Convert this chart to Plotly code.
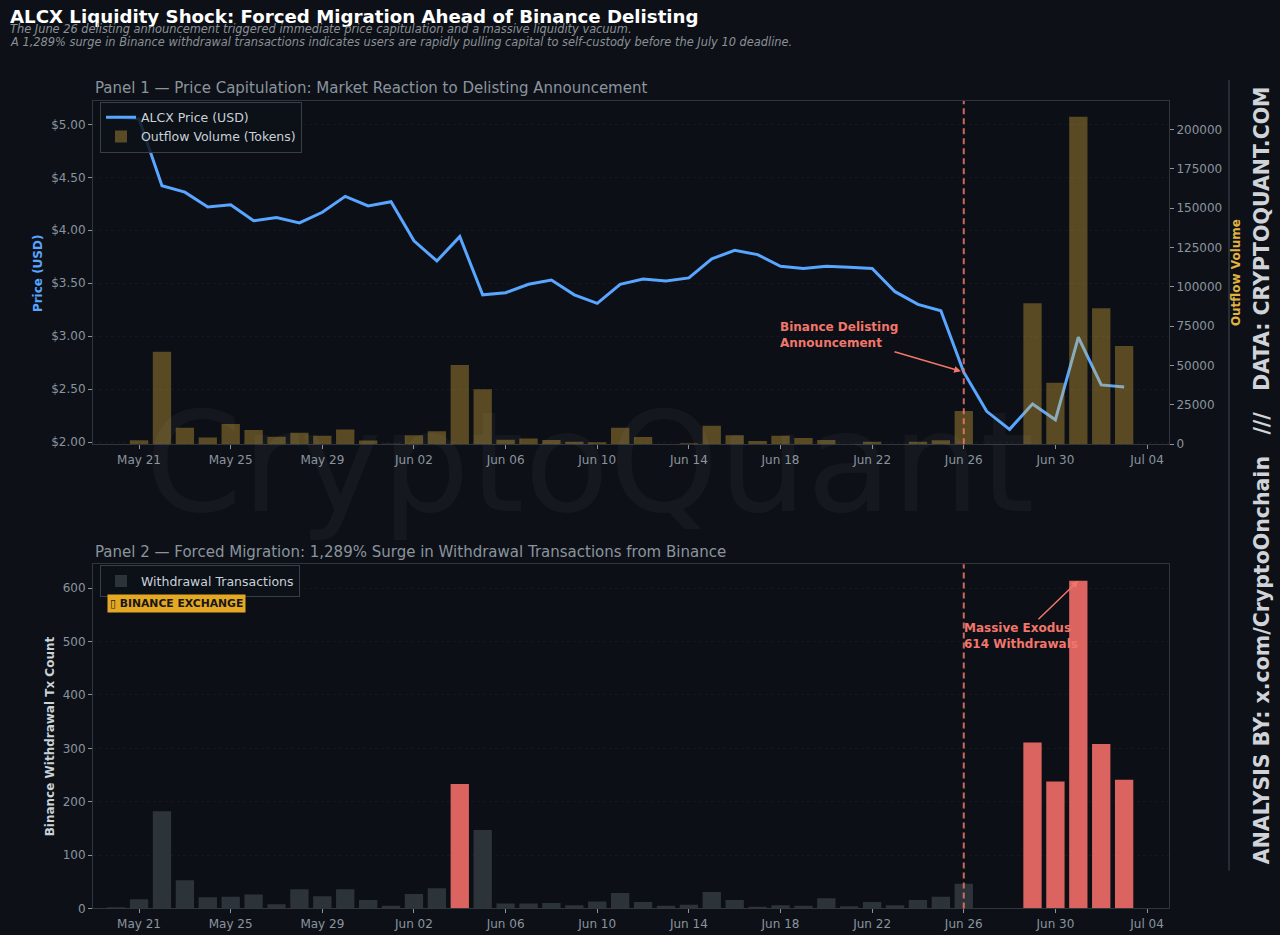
"""
ALCX : choc de liquidite avant le delisting Binance.
Deux panneaux : prix + volume de sortie, puis transactions de retrait.
"""

from plotly.graph_objects import Scatter, Bar, Figure

# donnees (20 mai -> 3 juillet)
dates = [
    "2025-05-20", "2025-05-21", "2025-05-22", "2025-05-23", "2025-05-24",
    "2025-05-25", "2025-05-26", "2025-05-27", "2025-05-28", "2025-05-29",
    "2025-05-30", "2025-05-31", "2025-06-01", "2025-06-02", "2025-06-03",
    "2025-06-04", "2025-06-05", "2025-06-06", "2025-06-07", "2025-06-08",
    "2025-06-09", "2025-06-10", "2025-06-11", "2025-06-12", "2025-06-13",
    "2025-06-14", "2025-06-15", "2025-06-16", "2025-06-17", "2025-06-18",
    "2025-06-19", "2025-06-20", "2025-06-21", "2025-06-22", "2025-06-23",
    "2025-06-24", "2025-06-25", "2025-06-26", "2025-06-27", "2025-06-28",
    "2025-06-29", "2025-06-30", "2025-07-01", "2025-07-02", "2025-07-03",
]

price_usd = [
    5.07, 5.05, 4.42, 4.36, 4.22, 4.24, 4.09, 4.12, 4.07, 4.17, 4.32, 4.23,
    4.27, 3.90, 3.71, 3.94, 3.39, 3.41, 3.49, 3.53, 3.39, 3.31,
    3.49, 3.54, 3.52, 3.55, 3.73, 3.81, 3.77, 3.66, 3.64, 3.66,
    3.65, 3.64, 3.42, 3.30, 3.24, 2.66, 2.29, 2.12, 2.36, 2.21,
    2.99, 2.54, 2.52,
]

outflow_tokens = [
    0, 2500, 58800, 10500, 4200, 12900, 9100, 4800, 7200, 5300, 9300, 2300,
    300, 5700, 8200, 50300, 34900, 2900, 3600, 2700, 1500, 1300,
    10500, 4600, 0, 600, 11800, 5700, 2100, 5300, 4000, 2700,
    0, 1500, 0, 1500, 2500, 21100, 0, 0, 89500, 39100,
    208000, 86400, 62400,
]

withdrawal_tx = [
    2, 17, 182, 53, 21, 22, 26, 8, 36, 23, 36, 16,
    5, 27, 38, 233, 147, 9, 9, 10, 6, 13,
    29, 12, 5, 7, 31, 16, 3, 6, 5, 19,
    4, 12, 6, 16, 22, 46, 0, 0, 311, 238,
    614, 308, 241,
]

price_ticks = [2.0, 2.5, 3.0, 3.5, 4.0, 4.5, 5.0]
outflow_ticks = [0, 25000, 50000, 75000, 100000, 125000, 150000, 175000, 200000]
tx_ticks = [0, 100, 200, 300, 400, 500, 600]

delisting_date = "2025-06-26"
peak_date = "2025-07-01"

# couleurs
BG = "#0d1117"
FRAME = "#30363d"
TXT = "#8b949e"
BLUE = "#58a6ff"
GOLD = "#e3b341"
SALMON = "#f2766b"

DAY = 86400000
W, H = 1280, 935
SY = 1.008  # la capture tasse un peu la hauteur, on compense

# la page doit faire exactement W x H (pas de marge)
PAGE_JS = (
    "document.documentElement.style.margin='0';"
    "document.documentElement.style.background='" + BG + "';"
    "document.body.style.margin='0';"
    "document.body.style.background='" + BG + "';"
    "document.body.style.overflow='hidden';"
    "document.body.style.lineHeight='0';"
    "document.querySelectorAll('svg.main-svg').forEach(function(s){s.style.display='block';});"
)


def px_x(p):
    return p / W


def px_y(p):
    return 1 - p * SY / H


def note(text, x, y, size, color, xa="left", angle=0, **kw):
    """petite annotation en coordonnees pixel de la page"""
    return dict(text=text, x=px_x(x), y=px_y(y), xref="paper", yref="paper",
                xanchor=xa, yanchor="middle", textangle=angle, showarrow=False,
                font=dict(size=size, color=color), **kw)


def main():
    bar_colors = ["rgba(248,113,108,0.88)" if v > 200 else "rgba(48,54,61,0.92)"
                  for v in withdrawal_tx]

    fig = Figure()

    fig.add_trace(Scatter(x=dates, y=price_usd, mode="lines", name="ALCX Price (USD)",
                          line=dict(color=BLUE, width=3), xaxis="x", yaxis="y",
                          legend="legend"))
    fig.add_trace(Bar(x=dates, y=outflow_tokens, name="Outflow Volume (Tokens)",
                      marker=dict(color="rgba(227,179,65,0.36)", line=dict(width=0)),
                      width=0.8 * DAY, xaxis="x", yaxis="y2", legend="legend"))
    fig.add_trace(Bar(x=dates, y=withdrawal_tx, name="Withdrawal Transactions",
                      marker=dict(color=bar_colors, line=dict(width=0)),
                      width=0.8 * DAY, xaxis="x2", yaxis="y3", legend="legend2"))

    xr = ["2025-05-18 23:45", "2025-07-04 23:00"]
    xcommon = dict(type="date", range=xr, tick0="2025-05-21", dtick=4 * DAY,
                   tickformat="%b %d", showgrid=False, showline=True, mirror=True,
                   linecolor=FRAME, linewidth=1, ticks="outside", ticklen=4,
                   tickcolor=TXT, tickfont=dict(color=TXT, size=12), zeroline=False)
    ycommon = dict(showline=True, mirror=True, linecolor=FRAME, linewidth=1,
                   ticks="outside", ticklen=4, tickcolor=TXT,
                   tickfont=dict(color=TXT, size=12), zeroline=False,
                   gridcolor="rgba(48,54,61,0.22)", griddash="dot")

    dom_x = [px_x(93), px_x(1169)]
    fig.update_layout(
        width=W, height=H,
        margin=dict(l=0, r=0, t=0, b=0),
        paper_bgcolor=BG, plot_bgcolor="#0c0f15",
        font=dict(family="DejaVu Sans", color=TXT),
        barmode="overlay",
        showlegend=True,
        xaxis=dict(xcommon, domain=dom_x, anchor="y"),
        yaxis=dict(ycommon, domain=[px_y(444), px_y(101)], range=[1.98, 5.22],
                   tickmode="array", tickvals=price_ticks,
                   ticktext=["$%.2f" % v for v in price_ticks], anchor="x"),
        yaxis2=dict(ycommon, overlaying="y", side="right", range=[0, 218000],
                    tickmode="array", tickvals=outflow_ticks,
                    ticktext=[str(v) for v in outflow_ticks],
                    showgrid=False, anchor="x", mirror=False),
        xaxis2=dict(xcommon, domain=dom_x, anchor="y3"),
        yaxis3=dict(ycommon, domain=[px_y(908), px_y(564)], range=[0, 645],
                    tickmode="array", tickvals=tx_ticks, anchor="x2"),
        legend=dict(x=px_x(100), y=px_y(101.5), xanchor="left", yanchor="top",
                    bgcolor="rgba(13,17,23,0.85)", bordercolor="#3a3f47",
                    borderwidth=1, font=dict(color="#c9d1d9", size=12.5),
                    traceorder="normal", tracegroupgap=0),
        legend2=dict(x=px_x(100), y=px_y(565), xanchor="left", yanchor="top",
                     bgcolor="rgba(13,17,23,0.85)", bordercolor="#3a3f47",
                     borderwidth=1, font=dict(color="#c9d1d9", size=12.5)),
    )

    # lignes verticales du delisting
    for xr_, yr in [("x", "y domain"), ("x2", "y3 domain")]:
        fig.add_shape(type="line", xref=xr_, yref=yr, x0=delisting_date,
                      x1=delisting_date, y0=0, y1=1,
                      line=dict(color="rgba(242,118,107,0.85)", width=2, dash="6px,4px"))

    # separateur vertical a droite
    fig.add_shape(type="line", xref="paper", yref="paper", x0=px_x(1229),
                  x1=px_x(1229), y0=px_y(870), y1=px_y(80),
                  line=dict(color="#3a3f47", width=1.2))

    ann = [
        # filigrane
        note("CryptoQuant", 590, 463, 139, "rgba(255,255,255,0.035)", xa="center"),
        # titres
        note("<b>ALCX Liquidity Shock: Forced Migration Ahead of Binance Delisting</b>",
             8, 16, 18.2, "#ffffff"),
        note("<i>The June 26 delisting announcement triggered immediate price capitulation and a massive liquidity vacuum.</i>",
             8, 29, 11.4, "#8b9096"),
        note("<i>A 1,289% surge in Binance withdrawal transactions indicates users are rapidly pulling capital to self-custody before the July 10 deadline.</i>",
             8, 42, 11.4, "#8b9096"),
        note("Panel 1 — Price Capitulation: Market Reaction to Delisting Announcement",
             93, 88, 15, "#8b949e"),
        note("Panel 2 — Forced Migration: 1,289% Surge in Withdrawal Transactions from Binance",
             93, 552, 15, "#8b949e"),
        # titres d'axes
        note("<b>Price (USD)</b>", 38, 273, 12, BLUE, xa="center", angle=-90),
        note("<b>Outflow Volume</b>", 1236, 273, 12, GOLD, xa="center", angle=-90),
        note("<b>Binance Withdrawal Tx Count</b>", 50, 736, 12, "#c9d1d9",
             xa="center", angle=-90),
        # signature verticale
        note("<b>ANALYSIS BY: x.com/CryptoOnchain   ///   DATA: CRYPTOQUANT.COM</b>",
             1262, 475, 20.5, "#d0d4d9", xa="center", angle=-90),
        # badge
        note("<b>\u25af BINANCE EXCHANGE</b>", 107, 603.5, 10.8, "#15171a",
             bgcolor="#e5a823", borderpad=2),
    ]
    # annotations flechees
    ann.append(dict(text="<b>Binance Delisting<br>Announcement</b>", x=delisting_date,
                    y=price_usd[dates.index(delisting_date)], xref="x", yref="y",
                    ax=-125, ay=-37, align="left", showarrow=True, arrowhead=2,
                    arrowsize=0.9, arrowwidth=1.5, arrowcolor=SALMON, standoff=3,
                    font=dict(size=12, color=SALMON)))
    ann.append(dict(text="<b>Massive Exodus<br>614 Withdrawals</b>", x=peak_date,
                    y=withdrawal_tx[dates.index(peak_date)], xref="x2", yref="y3",
                    ax=-57, ay=55, align="left", showarrow=True, arrowhead=2,
                    arrowsize=0.9, arrowwidth=1.5, arrowcolor=SALMON, standoff=0,
                    font=dict(size=12, color=SALMON)))
    fig.update_layout(annotations=ann)

    fig.write_html("out.html", config={"displayModeBar": False},
                   post_script=PAGE_JS)


if __name__ == "__main__":
    main()
